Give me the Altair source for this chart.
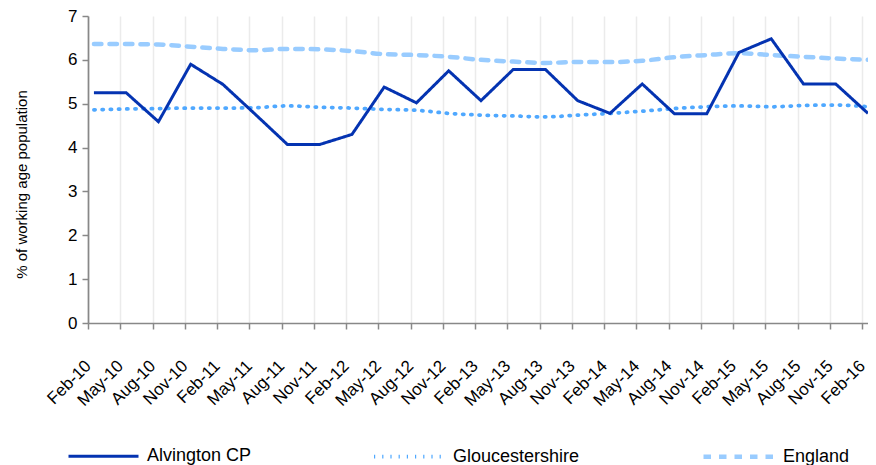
import altair as alt
import pandas as pd

months = ["Feb-10", "May-10", "Aug-10", "Nov-10", "Feb-11", "May-11", "Aug-11", "Nov-11",
          "Feb-12", "May-12", "Aug-12", "Nov-12", "Feb-13", "May-13", "Aug-13", "Nov-13",
          "Feb-14", "May-14", "Aug-14", "Nov-14", "Feb-15", "May-15", "Aug-15", "Nov-15", "Feb-16"]

alvington = [5.25, 5.25, 4.59, 5.90, 5.44, 4.76, 4.07, 4.07, 4.30, 5.38, 5.02, 5.75,
             5.07, 5.78, 5.78, 5.07, 4.78, 5.45, 4.77, 4.77, 6.17, 6.48, 5.45, 5.45, 4.78]
gloucestershire = [4.86, 4.88, 4.89, 4.90, 4.90, 4.91, 4.95, 4.92, 4.90, 4.87, 4.85, 4.78,
                   4.74, 4.72, 4.70, 4.74, 4.78, 4.83, 4.89, 4.93, 4.95, 4.93, 4.96, 4.97, 4.93]
england = [6.36, 6.36, 6.35, 6.30, 6.25, 6.22, 6.25, 6.24, 6.20, 6.13, 6.11, 6.07,
           6.00, 5.96, 5.93, 5.95, 5.95, 5.98, 6.06, 6.11, 6.15, 6.11, 6.07, 6.03, 6.00]

series_names = ["Alvington CP", "Gloucestershire", "England"]
series_colors = ["#0433B1", "#4FA8FF", "#99CCFF"]
series_dash = [[1.2, 7], [1.2, 7], [7.5, 8]]
series_dash[0] = [1, 0]
series_width = [3, 4.5, 5.5]

rows = []
for name, vals in zip(series_names, [alvington, gloucestershire, england]):
    for i, (m, v) in enumerate(zip(months, vals)):
        rows.append({"idx": i, "month": m, "series": name, "value": v})
df = pd.DataFrame(rows)

offset = 0.184
tick_vals = [round(k - offset, 3) for k in range(len(months))]
label_js = "[" + ",".join('"%s"' % m for m in months) + "]"

FONT = "Liberation Sans"

x_enc = alt.X(
    "idx:Q",
    scale=alt.Scale(domain=[-offset, len(months) - 1], nice=False, zero=False),
    axis=alt.Axis(
        values=tick_vals,
        labelExpr=label_js + "[round(datum.value + %s)]" % offset,
        labelAngle=-45,
        labelAlign="right",
        labelBaseline="middle",
        labelFontSize=17,
        labelFont=FONT,
        labelColor="#000000",
        labelPadding=34,
        labelOverlap=False,
        labelBound=False,
        labelFlush=False,
        tickSize=6,
        tickColor="#888888",
        tickWidth=1.5,
        domainColor="#888888",
        domainWidth=1.7,
        grid=True,
        gridColor="#EBEBEB",
        gridWidth=1.5,
        title=None,
    ),
)

y_enc = alt.Y(
    "value:Q",
    scale=alt.Scale(domain=[0, 7], nice=False),
    axis=alt.Axis(
        values=[0, 1, 2, 3, 4, 5, 6, 7],
        format="d",
        grid=False,
        tickSize=6,
        tickColor="#888888",
        tickWidth=1.5,
        domainColor="#888888",
        domainWidth=1.7,
        labelFontSize=17,
        labelFont=FONT,
        labelColor="#000000",
        labelPadding=5,
        labelOverlap=False,
        title="% of working age population",
        titleFont=FONT,
        titleFontSize=15,
        titleFontWeight="normal",
        titleColor="#000000",
        titleX=-67,
        titleY=168,
        titleAngle=-90,
        titleAlign="center",
        titleBaseline="middle",
    ),
)

legend = alt.Legend(
    title=None,
    orient="none",
    legendX=4,
    legendY=428,
    direction="horizontal",
    symbolType="M-3.5,0H3.5",
    symbolSize=400,
    labelFontSize=18,
    labelFont=FONT,
    labelColor="#000000",
    labelOffset=32,
    columnPadding=114,
    padding=0,
)

color_enc = alt.Color("series:N", scale=alt.Scale(domain=series_names, range=series_colors), legend=legend)
dash_enc = alt.StrokeDash("series:N", scale=alt.Scale(domain=series_names, range=series_dash), legend=legend)
width_enc = alt.StrokeWidth("series:N", scale=alt.Scale(domain=series_names, range=series_width), legend=legend)

base = alt.Chart(df).encode(x=x_enc, y=y_enc, color=color_enc, strokeDash=dash_enc, strokeWidth=width_enc)

smooth = base.transform_filter(alt.datum.series != "Alvington CP").mark_line(
    interpolate="monotone", strokeCap="round")
local = base.transform_filter(alt.datum.series == "Alvington CP").mark_line(
    interpolate="linear", strokeCap="butt", strokeJoin="miter")

chart = alt.layer(smooth, local).properties(
    width=780, height=307,
    padding={"left": 80, "top": 8, "right": 0, "bottom": 142},
    autosize=alt.AutoSizeParams(type="none"),
).configure_view(stroke=None).configure_legend(symbolStrokeWidth=3)

chart.save("out.html", embed_options={"renderer": "svg", "actions": False})
